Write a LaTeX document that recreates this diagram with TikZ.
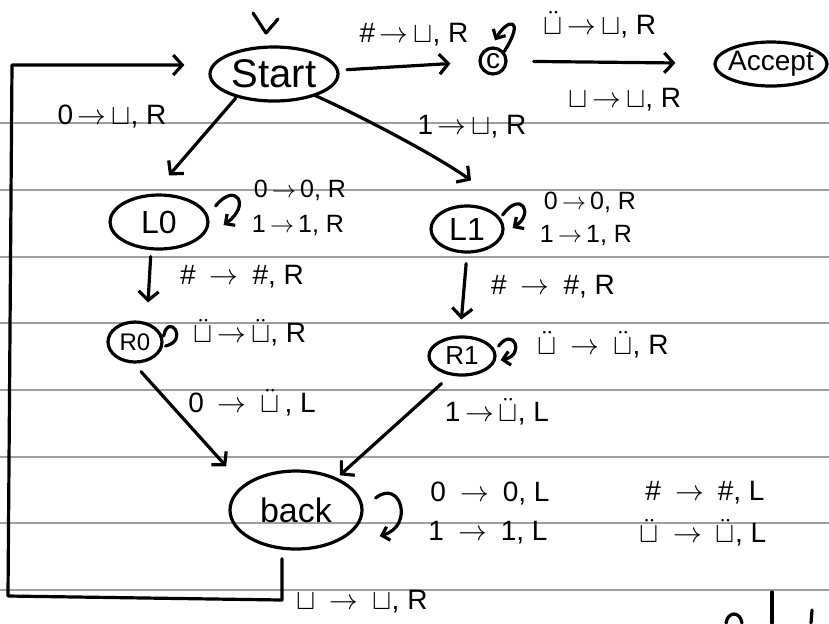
\documentclass[tikz,border=0pt]{standalone}
\usepackage{fontspec}
\setmainfont{Liberation Sans}
\usetikzlibrary{arrows.meta,shapes.geometric,calc}
% tape symbols used in the transition labels
\newcommand\tmblank{$\sqcup$}
\newcommand\tmmark{$\ddot{\sqcup}$}
\newcommand\tmto{\,$\rightarrow$\,}
\newcommand\tmtow{\enspace$\rightarrow$\enspace}
\begin{document}
\begin{tikzpicture}[x=0.5pt,y=-0.5pt,
  ink/.style={line width=1.6pt, line cap=round, line join=round},
  state/.style={ellipse, draw, ink, inner sep=0pt},
  cstate/.style={circle, draw, ink, inner sep=0pt},
  edge/.style={ink, -{Straight Barb[length=4.5pt,width=10pt]}},
  loopedge/.style={ink, -{Straight Barb[length=3.5pt,width=7pt]}},
  lbl/.style={font=\fontsize{14}{16}\selectfont, inner sep=0pt},
  slbl/.style={font=\fontsize{12.5}{14}\selectfont, inner sep=0pt},
  rule/.style={gray!75, line width=0.8pt}]

\fill[white] (0,0) rectangle (829,623);
\useasboundingbox (0,0) rectangle (829,623);

% ruled paper
\foreach \y in {123,190,257,323,390,457,523,590}
  \draw[rule] (0,\y) -- (829,\y);

% states
\node[state, minimum width=64pt, minimum height=27pt,
  label={[font=\fontsize{20}{22}\selectfont]center:Start}] (start) at (274,74) {};
\node[cstate, minimum size=13pt,
  label={[font=\fontsize{14}{16}\selectfont]center:c}] (c) at (493,61) {};
\node[state, minimum width=56pt, minimum height=22pt,
  label={[font=\fontsize{14}{16}\selectfont]center:Accept}] (accept) at (771,64) {};
\node[state, minimum width=49pt, minimum height=27pt,
  label={[font=\fontsize{16}{18}\selectfont]center:L0}] (l0) at (159,222) {};
\node[state, minimum width=27pt, minimum height=20pt,
  label={[font=\fontsize{12}{14}\selectfont]center:R0}] (r0) at (135,342) {};
\node[state, minimum width=36pt, minimum height=23pt,
  label={[font=\fontsize{16}{18}\selectfont]center:L1}] (l1) at (467,229) {};
\node[state, minimum width=33pt, minimum height=19pt,
  label={[font=\fontsize{13}{15}\selectfont]center:R1}] (r1) at (462,356) {};
\node[state, minimum width=66pt, minimum height=39pt,
  label={[font=\fontsize{17}{19}\selectfont]center:back}] (back) at (296,510) {};

% start marker
\draw[ink] (253,13) -- (266,33) -- (278,19);

% Start -> c -> Accept
\draw[edge, shorten <=4pt, shorten >=14pt] (start) -- (c);
\node[lbl] (lsc) at (414,35) {\#\tmto\tmblank, R};
\draw[loopedge] (c.40) .. controls +(22,-35) and +(12,-22) .. ([shift={(1pt,3pt)}]c.north);
\node[lbl] (lcc) at (600,25) {\tmmark\tmto\tmblank, R};
\draw[edge, shorten <=13pt, shorten >=19pt] (c) -- (accept);
\node[lbl] (lca) at (625,100) {\tmblank\tmto\tmblank, R};

% Start -> L0, Start -> L1
\draw[edge] ([shift={(4pt,-2pt)}]start.south west) -- ([shift={(5pt,9pt)}]l0.north);
\node[lbl] (ls0) at (112,117) {0\tmto\tmblank, R};
\draw[edge] ([shift={(-3pt,-0.5pt)}]start.south east) .. controls +(45,20) and +(-35,-25) .. ([shift={(2pt,12pt)}]l1.north);
\node[lbl] (ls1) at (472,127) {1\tmto\tmblank, R};

% L0 branch
\draw[loopedge] ([shift={(3pt,8pt)}]l0.east) .. controls +(20,-25) and +(28,-20) .. ([shift={(7pt,-1.5pt)}]l0.east);
\node[slbl] (ll0a) at (300,190) {0\tmto0, R};
\node[slbl] (ll0b) at (298,225) {1\tmto1, R};
\draw[edge, shorten <=3pt, shorten >=9pt] ([xshift=-4pt]l0.south) -- ([xshift=6pt]r0.north);
\node[lbl] (ll0r) at (242,277) {\#\tmtow\#, R};
\draw[ink] ([shift={(0pt,3pt)}]r0.east) .. controls +(5,-24) and +(24,-6) .. ([shift={(1pt,-2pt)}]r0.east);
\node[lbl] (lr0) at (250,333) {\tmmark\tmto\tmmark, R};
\draw[edge] ([shift={(3pt,-4pt)}]r0.south) -- ([shift={(-11pt,7.5pt)}]back.north west);
\node[lbl] (lr0b) at (252,403) {0\tmtow\tmmark\,, L};

% L1 branch
\draw[loopedge] ([shift={(-1pt,7pt)}]l1.east) .. controls +(18,-25) and +(22,-15) .. ([shift={(4pt,0.5pt)}]l1.east);
\node[slbl] (ll1a) at (590,202) {0\tmto0, R};
\node[slbl] (ll1b) at (586,235) {1\tmto1, R};
\draw[edge, shorten <=5pt, shorten >=8pt] (l1.south) -- ([xshift=-1pt]r1.north);
\node[lbl] (ll1r) at (553,287) {\#\tmtow\#, R};
\draw[loopedge] ([shift={(1pt,5pt)}]r1.east) .. controls +(15,-20) and +(25,-5) .. ([shift={(2pt,-2pt)}]r1.east);
\node[lbl] (lr1) at (603,345) {\tmmark\tmtow\tmmark, R};
\draw[edge] ([shift={(2pt,-6.5pt)}]r1.south west) -- ([shift={(-2pt,3pt)}]back.north east);
\node[lbl] (lr1b) at (497,412) {1\tmto\tmmark, L};

% back state
\draw[loopedge] ([shift={(6pt,6pt)}]back.east) .. controls +(25,-20) and +(35,-10) .. ([shift={(8pt,-13pt)}]back.east);
\node[lbl] (lba) at (490,493) {0\tmtow0, L};
\node[lbl] (lbb) at (488,533) {1\tmtow1, L};
\node[lbl] (lbc) at (705,493) {\#\tmtow\#, L};
\node[lbl] (lbd) at (703,533) {\tmmark\tmtow\tmmark, L};

% back -> Start around the left side
\coordinate (br) at (282,600);
\coordinate (bl) at (8,596);
\coordinate (tl) at (12,65);
\draw[edge, shorten <=4pt, shorten >=12pt] ([xshift=-7pt]back.south) -- (br) -- (bl) -- (tl) -- (tl -| start.west);
\node[lbl] (lbs) at (362,602) {\tmblank\tmtow\tmblank, R};

% strokes running off the lower edge
\draw[ink] (726,623) .. controls (728,611) and (740,611) .. (742,623);
\draw[ink] (772,592) -- (772,623);
\draw[ink] (812,610) -- (811,623);
\end{tikzpicture}
\end{document}
